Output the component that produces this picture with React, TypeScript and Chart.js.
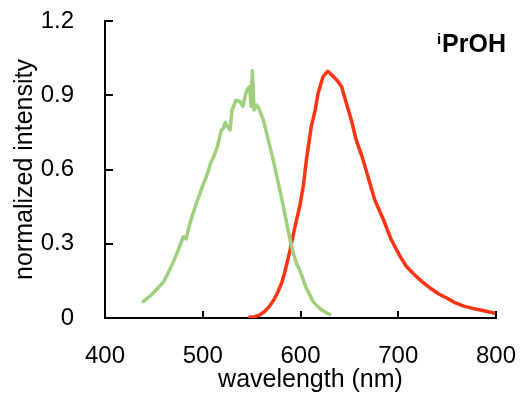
import React, { useEffect, useRef } from 'react';
import { Chart, registerables } from 'chart.js';

Chart.register(...registerables);

// ---- data ----
const greenWavelength = [
  439, 445, 449, 455, 460, 465, 470, 475, 480, 483, 486, 489, 495, 500, 505, 508, 512, 515,
  519, 521, 523, 525, 528, 530, 534, 538, 541, 543, 545, 548, 549.5, 550.7, 552.5, 555, 557,
  562, 567, 572, 577, 582, 587, 592, 596, 600, 606, 613, 618, 622, 626, 630,
];
const greenIntensity = [
  0.066, 0.085, 0.1, 0.125, 0.147, 0.185, 0.227, 0.275, 0.328, 0.32, 0.37, 0.41, 0.48, 0.535,
  0.585, 0.625, 0.66, 0.692, 0.76, 0.765, 0.79, 0.775, 0.76, 0.84, 0.88, 0.874, 0.855, 0.89,
  0.92, 0.935, 0.855, 1.0, 0.84, 0.86, 0.85, 0.8, 0.72, 0.64, 0.55, 0.46, 0.36, 0.27, 0.22,
  0.185, 0.12, 0.066, 0.045, 0.032, 0.022, 0.015,
];
const redWavelength = [
  548, 553, 558, 563, 568, 573, 577, 581, 584, 589, 594, 599.5, 603, 606, 611, 615, 618, 623,
  628, 632, 637, 642, 647, 652, 657, 663, 668, 673, 676, 685, 693, 702, 708, 715, 724, 733,
  741, 750, 758, 767, 775, 784, 792, 799,
];
const redIntensity = [
  0.003, 0.005, 0.012, 0.025, 0.046, 0.075, 0.106, 0.145, 0.187, 0.268, 0.362, 0.457, 0.537,
  0.638, 0.773, 0.84, 0.908, 0.975, 0.997, 0.982, 0.962, 0.935, 0.867, 0.8, 0.719, 0.652,
  0.585, 0.517, 0.477, 0.396, 0.315, 0.248, 0.21, 0.181, 0.148, 0.12, 0.098, 0.08, 0.062,
  0.048, 0.04, 0.032, 0.025, 0.019,
];
const xTickValues = [400, 500, 600, 700, 800];
const yTickValues = [0, 0.3, 0.6, 0.9, 1.2];
const xTitle = 'wavelength (nm)';
const yTitle = 'normalized intensity';
const labelSup = 'i';
const labelMain = 'PrOH';

const FONT = '"Liberation Sans", Arial, Helvetica, sans-serif';

const decorPlugin = {
  id: 'decor',
  afterDraw(chart: any) {
    const { ctx, chartArea, scales } = chart;
    const xs = scales.x;
    const ys = scales.y;
    ctx.save();
    // inward tick marks
    ctx.strokeStyle = '#000';
    ctx.lineWidth = 2;
    ctx.beginPath();
    ys.ticks.forEach((t: any) => {
      if (t.value === 0) return;
      const py = Math.round(ys.getPixelForValue(t.value));
      ctx.moveTo(chartArea.left, py);
      ctx.lineTo(chartArea.left + 8, py);
    });
    xs.ticks.forEach((t: any) => {
      if (t.value === 400) return;
      const px = Math.round(xs.getPixelForValue(t.value));
      ctx.moveTo(px, chartArea.bottom);
      ctx.lineTo(px, chartArea.bottom - 7);
    });
    ctx.stroke();

    // x axis title
    ctx.fillStyle = '#000';
    ctx.font = `25px ${FONT}`;
    ctx.textAlign = 'center';
    ctx.textBaseline = 'alphabetic';
    ctx.fillText(xTitle, (chartArea.left + chartArea.right) / 2 + 10, chartArea.bottom + 69);

    // solvent label
    ctx.font = `bold 25px ${FONT}`;
    ctx.textAlign = 'right';
    const rightX = chartArea.right + 10;
    const baseY = chartArea.top + 31;
    ctx.fillText(labelMain, rightX, baseY);
    const w = ctx.measureText(labelMain).width;
    ctx.font = `bold 15px ${FONT}`;
    ctx.fillText(labelSup, rightX - w - 1, baseY - 8);
    ctx.restore();
  },
};

export default function App() {
  const canvasRef = useRef<HTMLCanvasElement | null>(null);

  useEffect(() => {
    if (!canvasRef.current) return;
    const chart = new Chart(canvasRef.current, {
      type: 'line',
      data: {
        datasets: [
          {
            label: 'green',
            data: greenWavelength.map((x, i) => ({ x, y: greenIntensity[i] })),
            borderColor: '#9fce7c',
            borderWidth: 3.5,
            pointRadius: 0,
            tension: 0,
            borderJoinStyle: 'round',
            borderCapStyle: 'round',
          },
          {
            label: 'red',
            data: redWavelength.map((x, i) => ({ x, y: redIntensity[i] })),
            borderColor: '#ff3414',
            borderWidth: 3.5,
            pointRadius: 0,
            tension: 0,
            borderJoinStyle: 'round',
            borderCapStyle: 'round',
          },
        ],
      },
      options: {
        animation: false,
        responsive: false,
        devicePixelRatio: 1,
        layout: { padding: { top: 21, right: 25, bottom: 0, left: 0 } },
        plugins: {
          legend: { display: false },
          tooltip: { enabled: false },
          title: { display: false },
        },
        scales: {
          x: {
            type: 'linear',
            min: 400,
            max: 800,
            afterBuildTicks: (s: any) => {
              s.ticks = xTickValues.map((v) => ({ value: v }));
            },
            afterFit: (s: any) => {
              s.height = 79;
              s.paddingLeft = 0;
              s.paddingRight = 0;
            },
            grid: { display: false },
            border: { display: true, color: '#000', width: 2 },
            ticks: {
              font: { family: FONT, size: 24 },
              color: '#000',
              padding: 16,
              maxRotation: 0,
              autoSkip: false,
              callback: (v: any) => String(v),
            },
            title: { display: false },
          },
          y: {
            type: 'linear',
            min: 0,
            max: 1.2,
            afterBuildTicks: (s: any) => {
              s.ticks = yTickValues.map((v) => ({ value: v }));
            },
            afterFit: (s: any) => {
              s.width = 105;
              s.paddingTop = 0;
              s.paddingBottom = 0;
            },
            grid: { display: false },
            border: { display: true, color: '#000', width: 2 },
            ticks: {
              font: { family: FONT, size: 24 },
              color: '#000',
              padding: 23,
              autoSkip: false,
              callback: (v: any) => (Number(v) === 0 ? '0' : Number(v).toFixed(1)),
            },
            title: {
              display: true,
              text: yTitle,
              color: '#000',
              font: { family: FONT, size: 25 },
              padding: { top: 10, bottom: 0 },
            },
          },
        },
      },
      plugins: [decorPlugin],
    } as any);
    return () => chart.destroy();
  }, []);

  return (
    <div style={{ position: 'fixed', left: 0, top: 0, width: 521, height: 397, background: '#fff' }}>
      <canvas ref={canvasRef} width={521} height={397} style={{ display: 'block' }} />
    </div>
  );
}
